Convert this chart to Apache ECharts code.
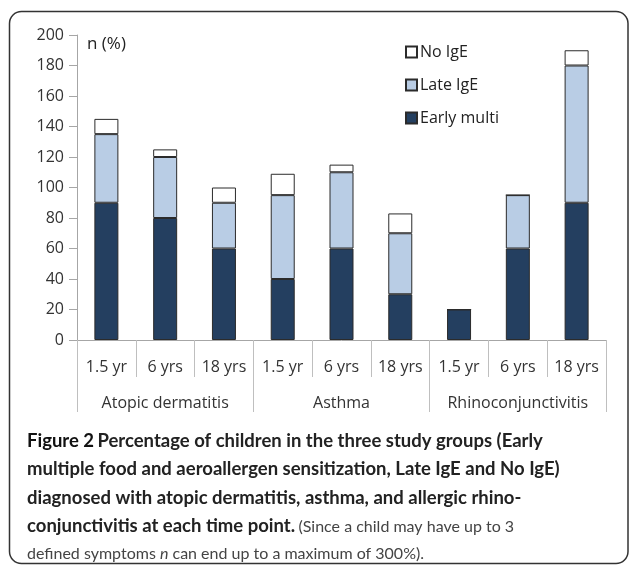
<!DOCTYPE html>
<html>
<head>
<meta charset="utf-8">
<script src="https://cdn.jsdelivr.net/npm/echarts@6/dist/echarts.min.js"></script>
<style>
  html, body { margin: 0; padding: 0; background: #fff; }
  #main { width: 629px; height: 565px; }
</style>
</head>
<body>
<div id="main"></div>
<script>
// time points (inner axis) and diagnosis groups (outer axis)
var categories = ['1.5 yr', '6 yrs', '18 yrs', '1.5 yr', '6 yrs', '18 yrs', '1.5 yr', '6 yrs', '18 yrs'];
var groups = ['Atopic dermatitis', 'Asthma', 'Rhinoconjunctivitis'];

// stacked values, n (%)
var earlyMulti = [90, 80, 60, 40, 60, 30, 20, 60, 90];
var lateIgE = [45, 40, 30, 55, 50, 40, 0, 35, 90];
var noIgE = [10, 5, 10, 14, 5, 13, 0, 0, 10];

var yTicks = { min: 0, max: 200, interval: 20 };

var chart = echarts.init(document.getElementById('main'));

var font = '"Open Sans", "DejaVu Sans", sans-serif';
var capFont = 'Lato, "Liberation Sans", sans-serif';
var gray = '#bfbfbf';

function bar(name, data, color) {
    return {
        name: name,
        type: 'bar',
        stack: 'n',
        xAxisIndex: 0,
        barWidth: 24,
        data: data,
        itemStyle: { color: color, borderColor: '#2b2b2b', borderWidth: 1 },
        emphasis: { disabled: true }
    };
}

var option = {
    animation: false,
    backgroundColor: '#fff',
    textStyle: { fontFamily: font },
    grid: { left: 77, right: 23, top: 35, bottom: 225 },
    legend: {
        orient: 'vertical',
        left: 400,
        top: 39,
        itemWidth: 11,
        itemHeight: 11,
        itemGap: 17,
        icon: 'rect',
        data: ['No IgE', 'Late IgE', 'Early multi'],
        textStyle: { fontFamily: font, fontSize: 16, color: '#222', padding: [0, 0, 0, -2] }
    },
    xAxis: [{
        type: 'category',
        data: categories,
        axisLine: { show: true, lineStyle: { color: '#a6a6a6' } },
        axisTick: { show: true, interval: 0, length: 37, lineStyle: { color: gray } },
        axisLabel: { margin: 19, fontSize: 16, color: '#333', fontFamily: font, interval: 0 }
    }, {
        type: 'category',
        data: groups,
        position: 'bottom',
        axisLine: { show: false },
        axisTick: { show: true, interval: 0, length: 72, lineStyle: { color: gray } },
        axisLabel: { margin: 55, fontSize: 16, color: '#333', fontFamily: font, interval: 0 }
    }],
    yAxis: {
        type: 'value',
        min: yTicks.min,
        max: yTicks.max,
        interval: yTicks.interval,
        axisLine: { show: true, lineStyle: { color: '#a6a6a6' } },
        axisTick: { show: true, length: 8, lineStyle: { color: '#a6a6a6' } },
        splitLine: { show: false },
        axisLabel: { margin: 13, fontSize: 16, color: '#333', fontFamily: font }
    },
    series: [
        bar('Early multi', earlyMulti, '#243f60'),
        bar('Late IgE', lateIgE, '#b9cde5'),
        bar('No IgE', noIgE, '#ffffff')
    ],
    graphic: [{
        type: 'rect',
        silent: true,
        shape: { x: 9.5, y: 11.5, width: 618.5, height: 552, r: 12 },
        style: { fill: 'none', stroke: '#333', lineWidth: 1.5 }
    }, {
        type: 'text',
        left: 87,
        top: 36,
        style: { text: 'n (%)', font: '17px ' + font, fill: '#222' }
    }, {
        type: 'group',
        left: 27,
        top: 432,
        children: [{
            type: 'text', x: 0, y: 0,
            style: {
                text: '{f|Figure 2} {b|Percentage of children in the three study groups (Early}',
                rich: { f: { font: 'bold 18.5px ' + capFont, fill: '#111' }, b: { font: 'bold 18.5px ' + capFont, fill: '#222' } }
            }
        }, {
            type: 'text', x: 0, y: 28,
            style: { text: 'multiple food and aeroallergen sensitization, Late IgE and No IgE)', font: 'bold 18.5px ' + capFont, fill: '#222' }
        }, {
            type: 'text', x: 0, y: 57,
            style: { text: 'diagnosed with atopic dermatitis, asthma, and allergic rhino-', font: 'bold 18.5px ' + capFont, fill: '#222' }
        }, {
            type: 'text', x: 0, y: 85,
            style: {
                text: '{b|conjunctivitis at each time point.} {n|(Since a child may have up to 3}',
                rich: { b: { font: 'bold 18.5px ' + capFont, fill: '#222' }, n: { font: '16px ' + capFont, fill: '#444' } }
            }
        }, {
            type: 'text', x: 0, y: 114,
            style: {
                text: '{n|defined symptoms }{i|n}{n| can end up to a maximum of 300%).}',
                rich: { n: { font: '16px ' + capFont, fill: '#444' }, i: { font: 'italic 16px ' + capFont, fill: '#444' } }
            }
        }]
    }]
};

chart.setOption(option);
</script>
</body>
</html>
